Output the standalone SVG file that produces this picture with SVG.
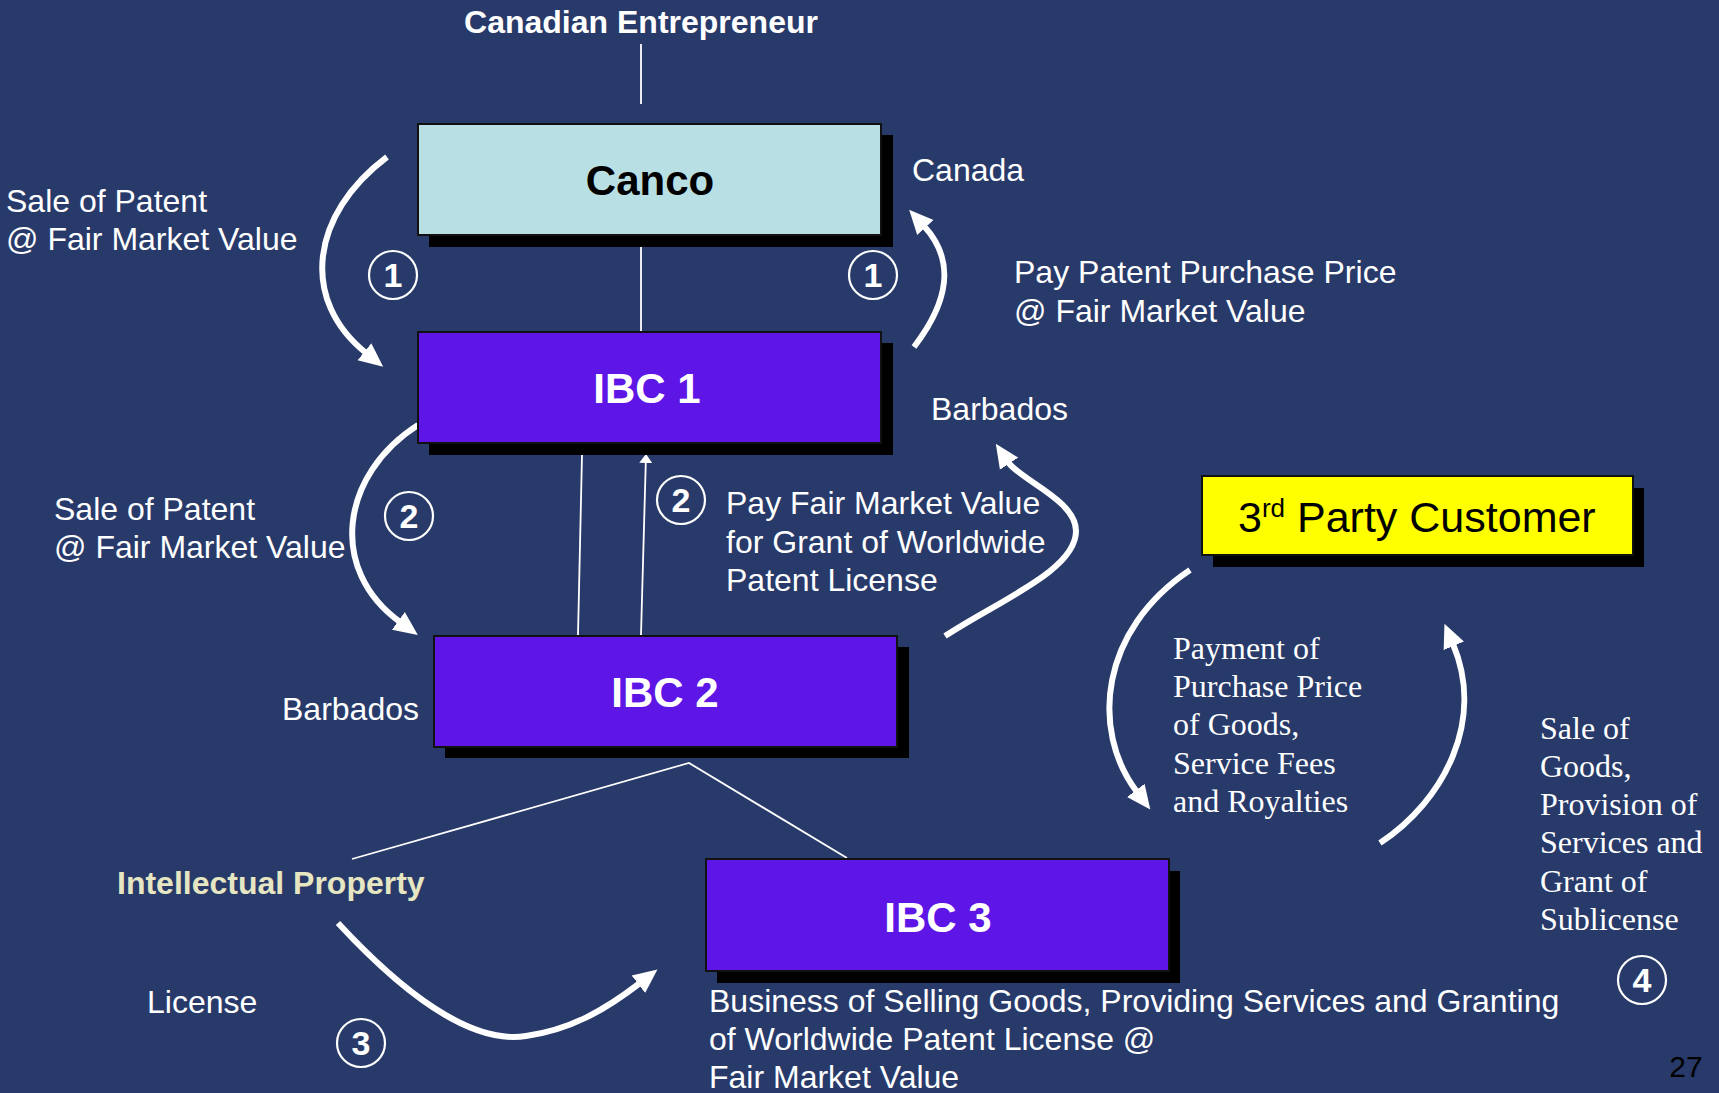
<svg xmlns="http://www.w3.org/2000/svg" width="1719" height="1093" viewBox="0 0 1719 1093">
<defs>
<style>
.t{font-family:"Liberation Sans",Arial,sans-serif;font-size:32px;fill:#fff}
.tr{font-family:"Liberation Serif","Times New Roman",serif;font-size:32px;fill:#fff}
.bx{stroke:#111;stroke-width:2}
.sh{fill:#000}
.lbl{font-family:"Liberation Sans",Arial,sans-serif;font-weight:bold;font-size:42px;text-anchor:middle}
.arc{fill:none;stroke:#fff;stroke-width:6}
.ln{stroke:#fff;stroke-width:1.8;fill:none}
.num circle{fill:none;stroke:#fff;stroke-width:2.2}
.num text{font-family:"Liberation Sans",Arial,sans-serif;font-weight:bold;font-size:34px;fill:#fff;text-anchor:middle}
</style>
<marker id="ah" markerUnits="userSpaceOnUse" viewBox="0 -12 26 24" refX="2" refY="0" markerWidth="26" markerHeight="24" orient="auto"><path d="M0,-11 L24,0 L0,11 z" fill="#fff"/></marker>
<marker id="sm" markerUnits="userSpaceOnUse" viewBox="0 -7 10 14" refX="1" refY="0" markerWidth="10" markerHeight="14" orient="auto"><path d="M0,-6.5 L9,0 L0,6.5 z" fill="#fff"/></marker>
</defs>
<rect width="1719" height="1093" fill="#283A6A"/>

<g id="connectors">
<line class="ln" x1="641" y1="44" x2="641" y2="104"/>
<line class="ln" x1="641" y1="247" x2="641" y2="331"/>
<line class="ln" x1="582" y1="455" x2="578" y2="635"/>
<line class="ln" x1="641" y1="635" x2="645.8" y2="462" marker-end="url(#sm)"/>
<polyline class="ln" points="352,859 689,763 847,858"/>
<path class="arc" d="M387,157 C310,215 300,300 366,353" marker-end="url(#ah)"/>
<path class="arc" d="M914,347 C950,300 955,260 924,226" marker-end="url(#ah)"/>
<path class="arc" d="M418,425 C340,475 328,570 400,622" marker-end="url(#ah)"/>
<path class="arc" d="M945,636 C1000,600 1076,570 1076,531 C1076,500 1020,480 1008,462" marker-end="url(#ah)"/>
<path class="arc" d="M1190,570 C1100,630 1090,730 1137,792" marker-end="url(#ah)"/>
<path class="arc" d="M1380,843 C1445,800 1485,720 1453,644" marker-end="url(#ah)"/>
<path class="arc" d="M338,923 C400,990 470,1045 526,1036 C570,1030 605,1010 640,983" marker-end="url(#ah)"/>
</g>

<g id="canco">
<rect class="sh" x="429" y="135" width="464" height="112"/>
<rect class="bx" x="418" y="124" width="463" height="111" fill="#B8DFE3"/>
<text class="lbl" x="650" y="195" fill="#000">Canco</text>
</g>
<g id="ibc1">
<rect class="sh" x="429" y="343" width="464" height="112"/>
<rect class="bx" x="418" y="332" width="463" height="111" fill="#5D16E6"/>
<text class="lbl" x="647" y="403" fill="#fff">IBC 1</text>
</g>
<g id="ibc2">
<rect class="sh" x="445" y="647" width="464" height="111"/>
<rect class="bx" x="434" y="636" width="463" height="111" fill="#5D16E6"/>
<text class="lbl" x="665" y="707" fill="#fff">IBC 2</text>
</g>
<g id="ibc3">
<rect class="sh" x="717" y="871" width="463" height="112"/>
<rect class="bx" x="706" y="859" width="463" height="112" fill="#5D16E6"/>
<text class="lbl" x="938" y="932" fill="#fff">IBC 3</text>
</g>
<g id="customer">
<rect class="sh" x="1213" y="488" width="431" height="79"/>
<rect class="bx" x="1202" y="476" width="431" height="79" fill="#FFFF00"/>
<text x="1238" y="532" font-family="Liberation Sans, Arial, sans-serif" font-size="43" fill="#000">3<tspan dy="-15" font-size="26">rd</tspan><tspan dy="15"> Party Customer</tspan></text>
</g>

<g id="labels">
<text x="641" y="33" font-family="Liberation Sans, Arial, sans-serif" font-weight="bold" font-size="32" fill="#fff" text-anchor="middle">Canadian Entrepreneur</text>
<text class="t" x="912" y="181">Canada</text>
<text class="t" x="931" y="420">Barbados</text>
<text class="t" x="282" y="720">Barbados</text>
<text class="t" x="6" y="212">Sale of Patent</text>
<text class="t" x="6" y="250">@ Fair Market Value</text>
<text class="t" x="54" y="520">Sale of Patent</text>
<text class="t" x="54" y="558">@ Fair Market Value</text>
<text class="t" x="1014" y="283">Pay Patent Purchase Price</text>
<text class="t" x="1014" y="322">@ Fair Market Value</text>
<text class="t" x="726" y="514">Pay Fair Market Value</text>
<text class="t" x="726" y="553">for Grant of Worldwide</text>
<text class="t" x="726" y="591">Patent License</text>
<text class="tr" x="1173" y="659">Payment of</text>
<text class="tr" x="1173" y="697">Purchase Price</text>
<text class="tr" x="1173" y="735">of Goods,</text>
<text class="tr" x="1173" y="774">Service Fees</text>
<text class="tr" x="1173" y="812">and Royalties</text>
<text class="tr" x="1540" y="739">Sale of</text>
<text class="tr" x="1540" y="777">Goods,</text>
<text class="tr" x="1540" y="815">Provision of</text>
<text class="tr" x="1540" y="853">Services and</text>
<text class="tr" x="1540" y="892">Grant of</text>
<text class="tr" x="1540" y="930">Sublicense</text>
<text x="117" y="894" font-family="Liberation Sans, Arial, sans-serif" font-weight="bold" font-size="32" fill="#E6E6C3">Intellectual Property</text>
<text class="t" x="147" y="1013">License</text>
<text class="t" x="709" y="1012">Business of Selling Goods, Providing Services and Granting</text>
<text class="t" x="709" y="1050">of Worldwide Patent License @</text>
<text class="t" x="709" y="1088">Fair Market Value</text>
<text x="1686" y="1077" font-family="Liberation Sans, Arial, sans-serif" font-size="30" fill="#000" text-anchor="middle">27</text>
</g>

<g id="steps">
<g class="num"><circle cx="393" cy="275" r="24"/><text x="393" y="287">1</text></g>
<g class="num"><circle cx="873" cy="275" r="24"/><text x="873" y="287">1</text></g>
<g class="num"><circle cx="409" cy="516" r="24"/><text x="409" y="528">2</text></g>
<g class="num"><circle cx="681" cy="500" r="24"/><text x="681" y="512">2</text></g>
<g class="num"><circle cx="361" cy="1043" r="24"/><text x="361" y="1055">3</text></g>
<g class="num"><circle cx="1642" cy="980" r="24"/><text x="1642" y="992">4</text></g>
</g>
</svg>
